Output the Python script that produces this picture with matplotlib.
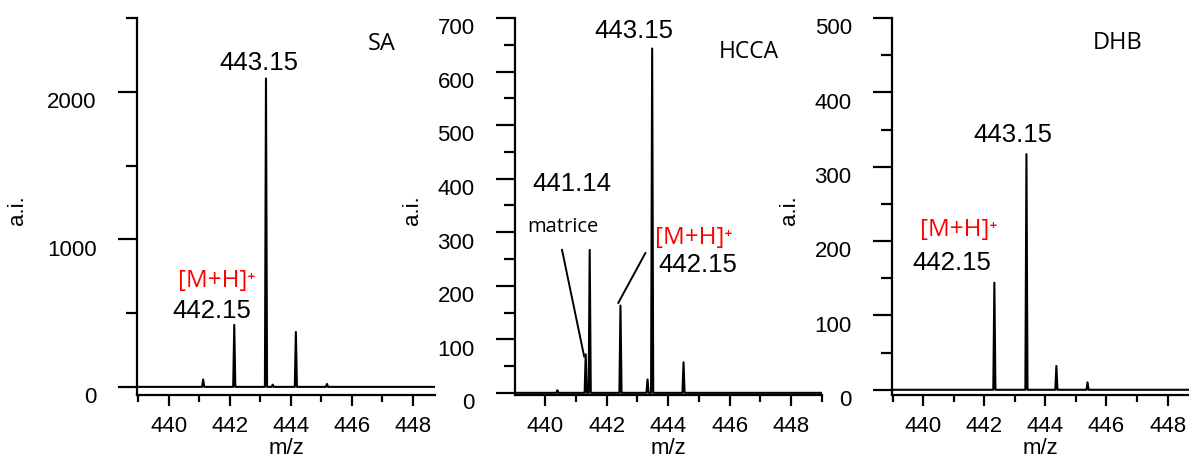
import matplotlib.pyplot as plt
from matplotlib.ticker import MultipleLocator
import matplotlib.transforms as mtransforms

# peak lists (m/z, intensity)
sa_mz = [441.12, 442.14, 443.18, 443.40, 444.16, 445.18]
sa_int = [50, 420, 2090, 15, 372, 20]

hcca_mz = [440.40, 441.32, 441.45, 442.45, 443.33, 443.48, 444.50]
hcca_int = [5, 72, 267, 163, 25, 643, 57]

dhb_mz = [442.33, 443.38, 444.36, 445.38]
dhb_int = [144, 317, 32, 10]

xticks = [440, 442, 444, 446, 448]

num_font = 'Liberation Sans'
txt_font = ['Open Sans', 'DejaVu Sans']

fig = plt.figure(figsize=(11.89, 4.55), dpi=100)


def spectrum(mz, inten, xmin, xmax, hw=0.035):
    xs = [xmin]
    ys = [0]
    for c, h in zip(mz, inten):
        xs += [c - hw, c, c + hw]
        ys += [0, h, 0]
    xs.append(xmax)
    ys.append(0)
    return xs, ys


def setup(rect, mz, inten, xlim, ylim, major, minor, ylab_x):
    ax = fig.add_axes(rect)
    xs, ys = spectrum(mz, inten, xlim[0], xlim[1])
    ax.plot(xs, ys, color='black', lw=1.5)
    ax.set_xlim(*xlim)
    ax.set_ylim(*ylim)
    ax.spines['top'].set_visible(False)
    ax.spines['right'].set_visible(False)
    ax.spines['left'].set_linewidth(1.6)
    ax.spines['bottom'].set_linewidth(1.6)
    ax.xaxis.set_major_locator(MultipleLocator(2))
    ax.xaxis.set_minor_locator(MultipleLocator(1))
    ax.set_xticks(xticks)
    ax.yaxis.set_major_locator(MultipleLocator(major))
    ax.yaxis.set_minor_locator(MultipleLocator(minor))
    ax.tick_params(axis='x', which='major', length=8, width=1.6, pad=7,
                   labelsize=16)
    ax.tick_params(axis='x', which='minor', length=5, width=1.6)
    ax.tick_params(axis='y', which='major', length=14, width=1.6, pad=15,
                   labelsize=16)
    ax.tick_params(axis='y', which='minor', length=8, width=1.6)
    off = mtransforms.ScaledTranslation(0, -6 / 72, fig.dpi_scale_trans)
    for lab in ax.get_xticklabels() + ax.get_yticklabels():
        lab.set_fontfamily(num_font)
    for lab in ax.get_yticklabels():
        lab.set_transform(lab.get_transform() + off)
    ax.set_xlabel('m/z', fontsize=16, family=num_font)
    ax.xaxis.set_label_coords(0.5, -0.113)
    ax.set_ylabel('a.i.', fontsize=16, family=num_font)
    ax.yaxis.set_label_coords(ylab_x, 0.49)
    return ax


# SA
ax1 = setup([0.1152, 0.1319, 0.2506, 0.8286], sa_mz, sa_int,
            (438.95, 448.72), (-55, 2500), 1000, 500, -0.366)
ax1.text(446.98, 2324, 'SA', fontsize=17, family=txt_font, ha='center', va='center')
ax1.text(442.95, 2196, '443.15', fontsize=18.5, family=num_font, ha='center', va='center')
ax1.text(441.57, 716, '[M+H]\u207a', fontsize=17.5, family=txt_font, color='red',
         ha='center', va='center')
ax1.text(441.41, 513, '442.15', fontsize=18.5, family=num_font, ha='center', va='center')

# HCCA
ax2 = setup([0.4331, 0.1319, 0.2582, 0.8286], hcca_mz, hcca_int,
            (439.02, 449.0), (-4, 700), 100, 50, -0.30)
ax2.text(446.61, 636, 'HCCA', fontsize=16.5, family=txt_font, ha='center', va='center')
ax2.text(442.87, 675, '443.15', fontsize=18.5, family=num_font, ha='center', va='center')
ax2.text(440.88, 390, '441.14', fontsize=18.5, family=num_font, ha='center', va='center')
ax2.text(440.59, 310, 'matrice', fontsize=14.5, family=txt_font, ha='center', va='center')
ax2.text(444.82, 289, '[M+H]\u207a', fontsize=17.5, family=txt_font, color='red',
         ha='center', va='center')
ax2.text(444.95, 238, '442.15', fontsize=18.5, family=num_font, ha='center', va='center')
ax2.plot([440.55, 441.27], [267, 68], color='black', lw=1.4)
ax2.plot([443.26, 442.38], [261, 168], color='black', lw=1.4)

# DHB
ax3 = setup([0.7502, 0.1319, 0.2498, 0.8286], dhb_mz, dhb_int,
            (438.98, 448.7), (-7, 500), 100, 50, -0.31)
ax3.text(446.36, 466, 'DHB', fontsize=17, family=txt_font, ha='center', va='center')
ax3.text(442.92, 343, '443.15', fontsize=18.5, family=num_font, ha='center', va='center')
ax3.text(441.16, 215, '[M+H]\u207a', fontsize=17.5, family=txt_font, color='red',
         ha='center', va='center')
ax3.text(440.93, 171, '442.15', fontsize=18.5, family=num_font, ha='center', va='center')

fig.savefig('out.png', dpi=100)
